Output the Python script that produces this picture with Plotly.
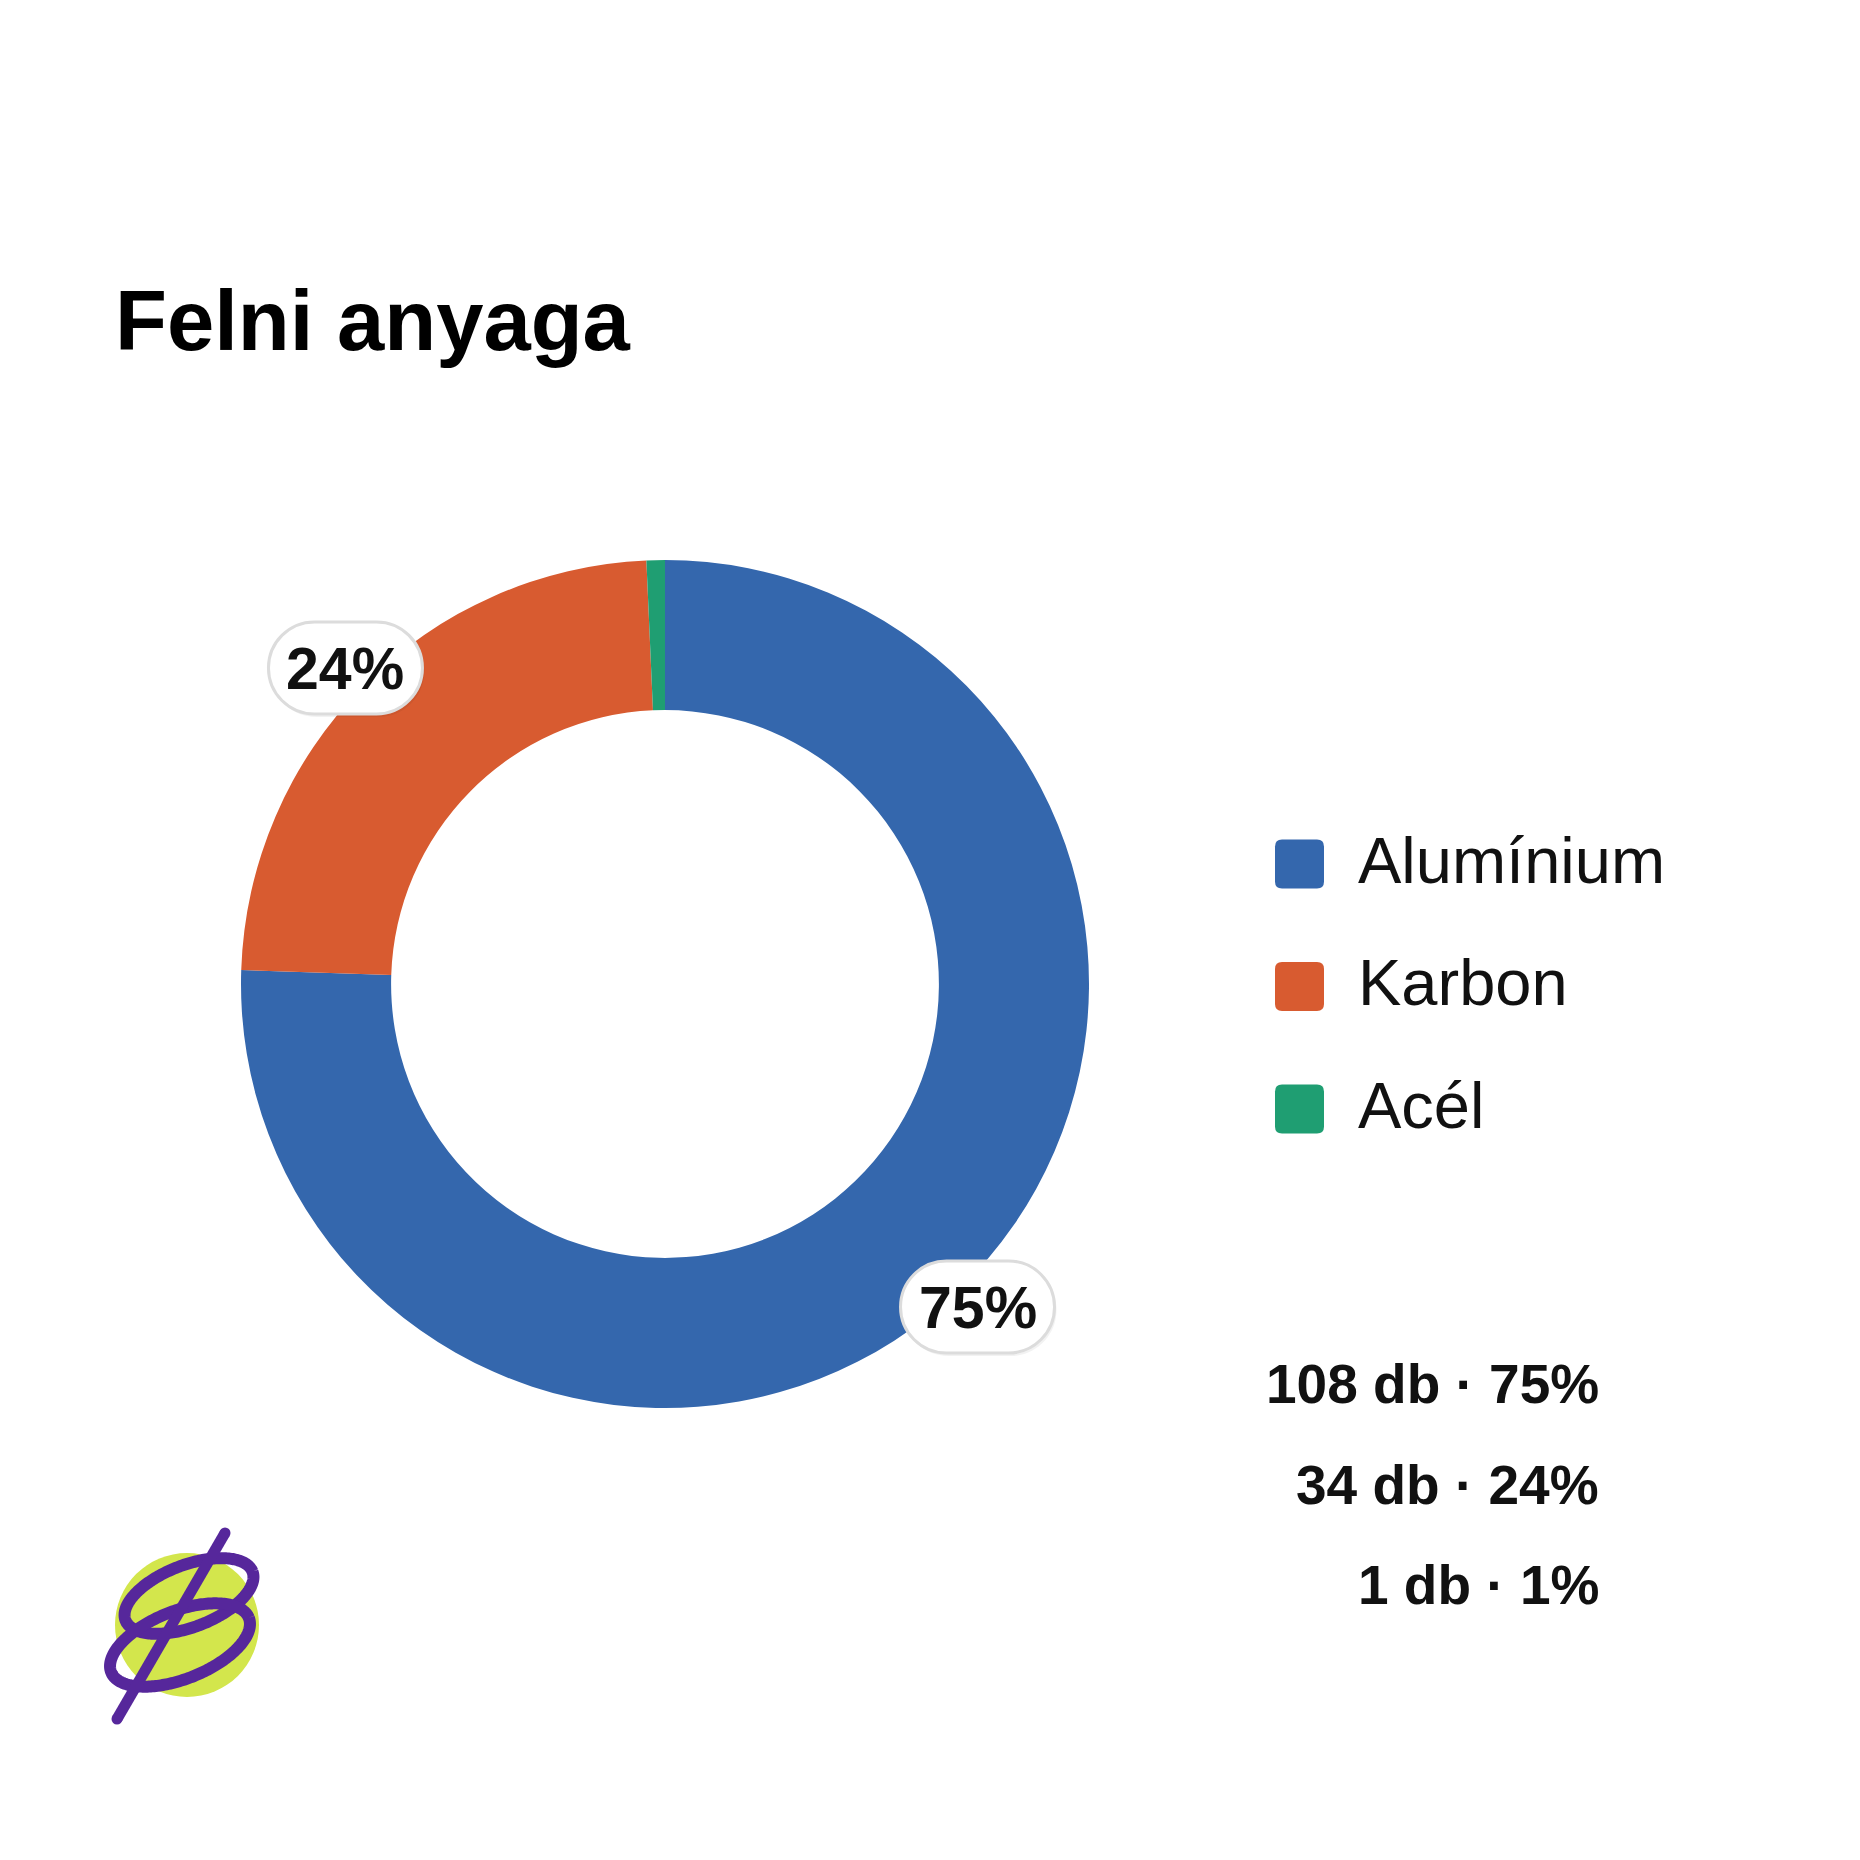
import numpy as np
import plotly.graph_objects as go

# ---- data ----
title = "Felni anyaga"
categories = ["Alumínium", "Karbon", "Acél"]
counts = [108, 34, 1]
pct_labels = ["75%", "24%", "1%"]
colors = ["#3467ad", "#d85b30", "#1f9e72"]
stat_lines = [f"{c} db · {p}" for c, p in zip(counts, pct_labels)]

# ---- layout constants (pixels) ----
W = H = 1860
cx, cy, R = 665, 984, 424
hole = 0.646
FONT = "Liberation Sans, Arial, Helvetica, sans-serif"

fig = go.Figure()
fig.add_trace(go.Pie(
    labels=categories, values=counts, sort=False, direction="clockwise",
    rotation=0, hole=hole, textinfo="none", hoverinfo="skip", showlegend=False,
    marker=dict(colors=colors, line=dict(width=0)),
    domain=dict(x=[(cx - R) / W, (cx + R) / W], y=[1 - (cy + R) / H, 1 - (cy - R) / H]),
))


def rrect(x0, y0, x1, y1, r):
    return (f"M{x0 + r},{y0} L{x1 - r},{y0} Q{x1},{y0} {x1},{y0 + r} "
            f"L{x1},{y1 - r} Q{x1},{y1} {x1 - r},{y1} L{x0 + r},{y1} "
            f"Q{x0},{y1} {x0},{y1 - r} L{x0},{y0 + r} Q{x0},{y0} {x0 + r},{y0} Z")


def pill(x0, y0, x1, y1):
    r = (y1 - y0) / 2
    k = 0.5523 * r
    return (f"M{x0 + r},{y0} L{x1 - r},{y0} "
            f"C{x1 - r + k},{y0} {x1},{y0 + r - k} {x1},{y0 + r} "
            f"C{x1},{y0 + r + k} {x1 - r + k},{y1} {x1 - r},{y1} "
            f"L{x0 + r},{y1} "
            f"C{x0 + r - k},{y1} {x0},{y0 + r + k} {x0},{y0 + r} "
            f"C{x0},{y0 + r - k} {x0 + r - k},{y0} {x0 + r},{y0} Z")


shapes = []
annotations = []

# percentage pills at slice mid-angles
total = sum(counts)
cum = 0.0
for c, p in zip(counts, pct_labels):
    frac = c / total
    mid = (cum + frac / 2) * 2 * np.pi
    cum += frac
    if frac < 0.05:
        continue
    rl = R * 1.06
    px = cx + rl * np.sin(mid)
    py = cy - rl * np.cos(mid)
    w, h = 154, 92
    shapes.append(dict(type="path", xref="x", yref="y", layer="above",
                       path=pill(px - w / 2 + 2, py - h / 2 + 3, px + w / 2 + 2, py + h / 2 + 3),
                       fillcolor="rgba(0,0,0,0.05)", line=dict(width=0)))
    shapes.append(dict(type="path", xref="x", yref="y", layer="above",
                       path=pill(px - w / 2, py - h / 2, px + w / 2, py + h / 2),
                       fillcolor="white", line=dict(color="#dcdcdc", width=3)))
    annotations.append(dict(x=px, y=py + 1, xref="x", yref="y", text=f"<b>{p}</b>",
                            showarrow=False, xanchor="center", yanchor="middle",
                            font=dict(family=FONT, size=59, color="#111111")))

# custom legend
for i, (cat, col) in enumerate(zip(categories, colors)):
    yc = 864 + i * 122.5
    s = 49
    shapes.append(dict(type="path", xref="x", yref="y", layer="above",
                       path=rrect(1275, yc - s / 2, 1275 + s, yc + s / 2, 7),
                       fillcolor=col, line=dict(width=0)))
    annotations.append(dict(x=1356, y=yc - 4, xref="x", yref="y", text=cat,
                            showarrow=False, xanchor="left", yanchor="middle",
                            font=dict(family=FONT, size=65, color="#111111")))

# stats lines
for i, line in enumerate(stat_lines):
    annotations.append(dict(x=1601, y=1384 + i * 100.5, xref="x", yref="y",
                            text=f"<b>{line}</b>", showarrow=False,
                            xanchor="right", yanchor="middle",
                            font=dict(family=FONT, size=55, color="#111111")))

# title
annotations.append(dict(x=113, y=320, xref="x", yref="y", text=f"<b>{title}</b>",
                        showarrow=False, xanchor="left", yanchor="middle",
                        font=dict(family=FONT, size=85, color="#000000")))

# logo (decoration)
shapes.append(dict(type="circle", xref="x", yref="y", layer="below",
                   x0=187 - 72, x1=187 + 72, y0=1625 - 72, y1=1625 + 72,
                   fillcolor="#d3e64c", line=dict(width=0)))
purple = "#56279b"
t = np.linspace(0, 2 * np.pi, 240)
for (ex, ey, a, b, ang) in [(189, 1596, 68, 31, 21), (180, 1645, 74, 34, 21.5)]:
    th = np.deg2rad(ang)
    xs = ex + a * np.cos(t) * np.cos(th) + b * np.sin(t) * np.sin(th)
    ys = ey - a * np.cos(t) * np.sin(th) + b * np.sin(t) * np.cos(th)
    fig.add_trace(go.Scatter(x=xs, y=ys, mode="lines",
                             line=dict(color=purple, width=12, simplify=False),
                             hoverinfo="skip", showlegend=False))
fig.add_trace(go.Scatter(x=[225, 117], y=[1533, 1719], mode="lines+markers",
                         line=dict(color=purple, width=11),
                         marker=dict(color=purple, size=11),
                         hoverinfo="skip", showlegend=False))

fig.update_layout(
    width=W, height=H, margin=dict(l=0, r=0, t=0, b=0),
    paper_bgcolor="white", plot_bgcolor="rgba(0,0,0,0)",
    xaxis=dict(range=[0, W], visible=False, fixedrange=True, domain=[0, 1]),
    yaxis=dict(range=[H, 0], visible=False, fixedrange=True, domain=[0, 1]),
    shapes=shapes, annotations=annotations, showlegend=False,
)

fig.write_html("out.html")
